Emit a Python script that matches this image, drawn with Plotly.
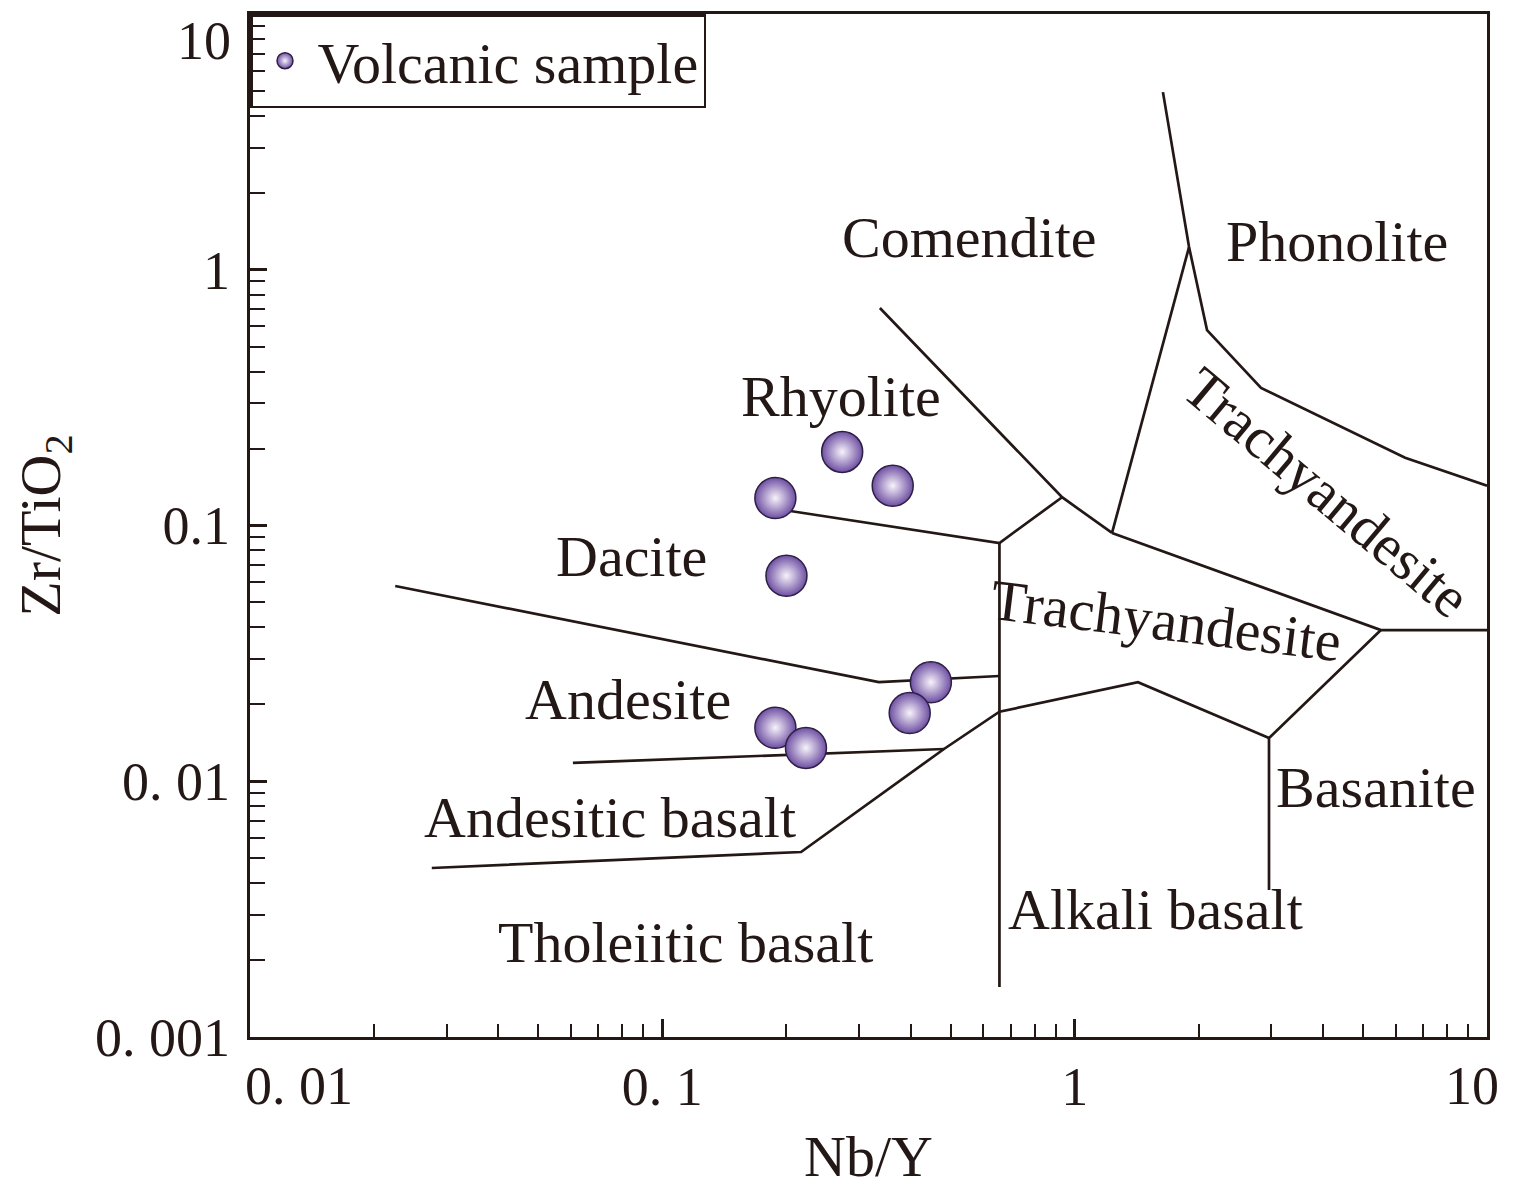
import plotly.graph_objects as go

# ---------------- data ----------------
# Sample points (Nb/Y, Zr/TiO2)
sample_nby = [0.188, 0.273, 0.362, 0.200, 0.448, 0.398, 0.188, 0.223]
sample_zrti = [0.128, 0.194, 0.143, 0.0636, 0.0244, 0.0185, 0.0162, 0.0135]

# Field boundaries (Nb/Y, Zr/TiO2)
b_dac_rhy_x = [0.197, 0.657, 0.932]
b_dac_rhy_y = [0.115, 0.0854, 0.129]
b_com_x = [0.337, 0.932, 1.232]
b_com_y = [0.709, 0.129, 0.0935]
b_com_pho_x = [1.232, 1.894]
b_com_pho_y = [0.0935, 1.227]
b_pho_x = [1.637, 1.894, 2.094, 2.831, 6.33, 10.0]
b_pho_y = [4.95, 1.227, 0.581, 0.345, 0.184, 0.143]
b_tra_x = [1.232, 5.53, 10.0]
b_tra_y = [0.0935, 0.0390, 0.0390]
b_bas_x = [5.53, 2.96, 2.96]
b_bas_y = [0.0390, 0.01476, 0.00376]
b_alk_x = [2.96, 1.424, 0.657, 0.482, 0.217, 0.0276]
b_alk_y = [0.01476, 0.0244, 0.0187, 0.01337, 0.00529, 0.00458]
b_and_x = [0.0607, 0.482]
b_and_y = [0.01179, 0.01337]
b_dac_and_x = [0.0225, 0.335, 0.657]
b_dac_and_y = [0.0580, 0.0244, 0.0258]
b_vert_x = [0.657, 0.657]
b_vert_y = [0.0854, 0.00157]

boundaries = [
    (b_dac_rhy_x, b_dac_rhy_y), (b_com_x, b_com_y), (b_com_pho_x, b_com_pho_y),
    (b_pho_x, b_pho_y), (b_tra_x, b_tra_y), (b_bas_x, b_bas_y),
    (b_alk_x, b_alk_y), (b_and_x, b_and_y), (b_dac_and_x, b_dac_and_y),
    (b_vert_x, b_vert_y),
]

# Field labels (log10 Nb/Y, log10 Zr/TiO2, angle)
label_text = ["Comendite", "Phonolite", "Rhyolite", "Dacite", "Andesite",
              "Andesitic basalt", "Tholeiitic basalt", "Alkali basalt", "Basanite",
              "Trachyandesite", "Trachyandesite"]
label_lx = [-0.254, 0.636, -0.567, -1.074, -1.083, -1.127, -0.943, 0.195, 0.731, 0.222, 0.612]
label_ly = [0.128, 0.112, -0.494, -1.123, -1.682, -2.140, -2.629, -2.503, -2.023, -1.370, -0.869]
label_angle = [0, 0, 0, 0, 0, 0, 0, 0, 0, 7, 40]

# Tick labels (edge labels drawn as annotations, shifted inward as in the source)
x_tickvals = [0.1, 1]
x_ticktext = ["0. 1", "1"]
y_tickvals = [0.001, 0.01, 0.1, 1]
y_ticktext = ["0. 001", "0. 01", "0.1", "1"]
x_edge_labels = ["0. 01", "10"]
y_edge_labels = ["10"]

# ---------------- style ----------------
INK = "#231815"
FONT = "Liberation Serif"
TICK_SIZE = 54
LABEL_SIZE = 58
TITLE_SIZE = 58

fig = go.Figure()

for bx, by in boundaries:
    fig.add_trace(go.Scatter(x=bx, y=by, mode="lines",
                             line=dict(color=INK, width=2.7),
                             showlegend=False, hoverinfo="skip"))

fig.add_trace(go.Scatter(
    x=sample_nby, y=sample_zrti, mode="markers", name="Volcanic sample",
    marker=dict(size=41, color="#6e4fa2",
                gradient=dict(type="radial", color="#f7f3fb"),
                line=dict(color="#2e1f45", width=1.5)),
))

for t, lx, ly, a in zip(label_text, label_lx, label_ly, label_angle):
    fig.add_annotation(x=lx, y=ly, xref="x", yref="y", text=t, showarrow=False,
                       textangle=a, font=dict(family=FONT, size=LABEL_SIZE, color=INK),
                       xanchor="center", yanchor="middle")

tickfont = dict(family=FONT, size=TICK_SIZE, color=INK)
# edge tick labels
fig.add_annotation(text=x_edge_labels[0], xref="paper", yref="paper", x=0, y=0,
                   xanchor="left", yanchor="middle", xshift=-7, yshift=-49,
                   showarrow=False, font=tickfont)
fig.add_annotation(text=x_edge_labels[1], xref="paper", yref="paper", x=1, y=0,
                   xanchor="right", yanchor="middle", xshift=14, yshift=-49,
                   showarrow=False, font=tickfont)
fig.add_annotation(text=y_edge_labels[0], xref="paper", yref="paper", x=0, y=1,
                   xanchor="right", yanchor="top", xshift=-17, yshift=5,
                   showarrow=False, font=tickfont)

axis_common = dict(
    type="log", showline=True, linecolor=INK, linewidth=3.2, mirror=True,
    ticks="inside", tickcolor=INK, tickwidth=2.5, showgrid=False, zeroline=False,
    tickmode="array", tickfont=tickfont, automargin=True,
    title_font=dict(family=FONT, size=TITLE_SIZE, color=INK),
)

fig.update_xaxes(**axis_common, range=[-2, 1], tickvals=x_tickvals, ticktext=x_ticktext,
                 ticklen=18,
                 minor=dict(ticks="inside", ticklen=13, tickwidth=2, tickcolor=INK,
                            dtick="D1", showgrid=False),
                 title=dict(text="Nb/Y", standoff=20))
fig.update_yaxes(**axis_common, range=[-3, 1], tickvals=y_tickvals, ticktext=y_ticktext,
                 ticklen=17, ticklabelstandoff=6,
                 minor=dict(ticks="inside", ticklen=15, tickwidth=2, tickcolor=INK,
                            dtick="D1", showgrid=False),
                 title=dict(text="Zr/TiO<sub>2</sub>", standoff=30))

# the page body adds an 8 px offset, so the figure is sized to fit the 1513x1194 window
fig.update_layout(
    width=1505, height=1186,
    margin=dict(l=242, r=26, t=6, b=157, autoexpand=False),
    paper_bgcolor="white", plot_bgcolor="white",
    font=dict(family=FONT, color=INK),
    showlegend=True,
    legend=dict(x=0, y=1, xanchor="left", yanchor="top",
                bgcolor="rgba(255,255,255,0)", bordercolor=INK, borderwidth=2.5,
                font=dict(family=FONT, size=58, color=INK),
                itemsizing="trace", itemwidth=55),
)

fig.write_html("out.html")
